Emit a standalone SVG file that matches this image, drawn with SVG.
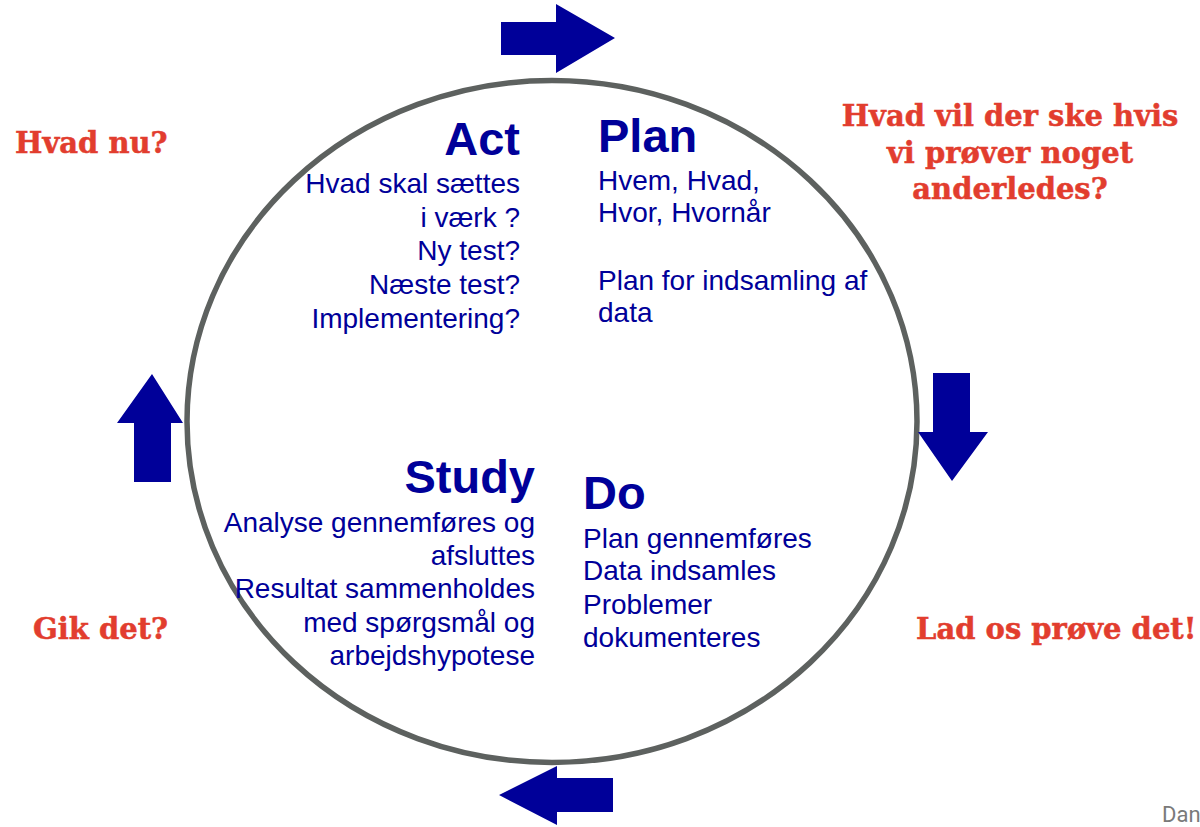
<svg xmlns="http://www.w3.org/2000/svg" width="1200" height="827" viewBox="0 0 1200 827">
<style>
.h{font-family:"Liberation Sans",Arial,sans-serif;font-weight:bold;font-size:47px;fill:#000099}
.b{font-family:"Liberation Sans",Arial,sans-serif;font-size:28px;fill:#000099}
.r{font-family:"DejaVu Serif",Georgia,serif;font-weight:bold;font-size:29px;fill:#e23d2e;stroke:#e23d2e;stroke-width:0.5}
.arrow{fill:#000099}
.e{text-anchor:end}
.m{text-anchor:middle}
</style>
<rect width="1200" height="827" fill="#ffffff"/>
<g id="cycle">
<ellipse cx="552" cy="421.5" rx="365" ry="341" fill="none" stroke="#5d615f" stroke-width="5.5"/>
</g>
<g id="connectors">
<polygon class="arrow" points="501,22 556,22 556,4 615,38 556,73 556,55 501,55"/>
<polygon class="arrow" points="933,373 970,373 970,432 988,432 952,481 918,432 933,432"/>
<polygon class="arrow" points="613,778 557,778 557,766 499,795 557,825 557,812 613,812"/>
<polygon class="arrow" points="134,482 134,423 117,423 152,374 183,423 171,423 171,482"/>
</g>
<g id="act">
<text class="h e" x="520" y="155">Act</text>
<text class="b e" x="520" y="193">Hvad skal sættes</text>
<text class="b e" x="520" y="227">i værk ?</text>
<text class="b e" x="520" y="260">Ny test?</text>
<text class="b e" x="520" y="294">Næste test?</text>
<text class="b e" x="520" y="328">Implementering?</text>
</g>
<g id="plan">
<text class="h" x="598" y="152">Plan</text>
<text class="b" x="598" y="190">Hvem, Hvad,</text>
<text class="b" x="598" y="222">Hvor, Hvornår</text>
<text class="b" x="598" y="290">Plan for indsamling af</text>
<text class="b" x="598" y="322">data</text>
</g>
<g id="study">
<text class="h e" x="535" y="493">Study</text>
<text class="b e" x="535" y="532">Analyse gennemføres og</text>
<text class="b e" x="535" y="565">afsluttes</text>
<text class="b e" x="535" y="598">Resultat sammenholdes</text>
<text class="b e" x="535" y="632">med spørgsmål og</text>
<text class="b e" x="535" y="665">arbejdshypotese</text>
</g>
<g id="do">
<text class="h" x="583" y="509">Do</text>
<text class="b" x="583" y="548">Plan gennemføres</text>
<text class="b" x="583" y="580">Data indsamles</text>
<text class="b" x="583" y="614">Problemer</text>
<text class="b" x="583" y="647">dokumenteres</text>
</g>
<g id="q-act">
<text class="r" x="15" y="153">Hvad nu?</text>
</g>
<g id="q-plan">
<text class="r m" x="1010" y="126">Hvad vil der ske hvis</text>
<text class="r m" x="1010" y="163">vi prøver noget</text>
<text class="r m" x="1010" y="199">anderledes?</text>
</g>
<g id="q-study">
<text class="r" x="33" y="639">Gik det?</text>
</g>
<g id="q-do">
<text class="r" x="916" y="639">Lad os prøve det!</text>
</g>
<text x="1162" y="822" font-family="Roboto,'Liberation Sans',sans-serif" font-size="22" fill="#7a7a7a">Dan</text>
</svg>
